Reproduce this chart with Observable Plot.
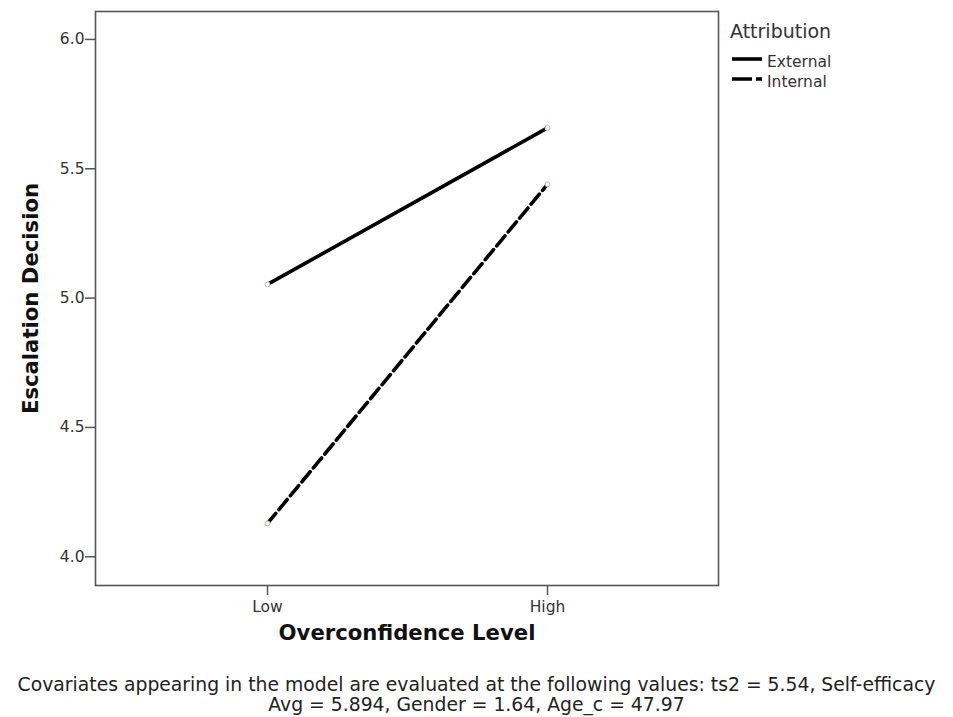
<!DOCTYPE html>
<html>
<head>
<meta charset="utf-8">
<script src="https://cdn.jsdelivr.net/npm/d3@7"></script>
<script src="https://cdn.jsdelivr.net/npm/@observablehq/plot@0.6"></script>
<style>
  body { margin: 0; background: #fff; }
  #wrap { position: relative; width: 953px; height: 717px; font-family: "DejaVu Sans", sans-serif; }
  #legend { position: absolute; left: 0; top: 0; }
  #caption { position: absolute; left: 0; top: 675px; width: 953px; text-align: center;
             font-size: 18.8px; line-height: 20px; color: #222; white-space: nowrap; }
</style>
</head>
<body>
<div id="wrap">
  <div id="chart"></div>
  <div id="caption">Covariates appearing in the model are evaluated at the following values: ts2 = 5.54, Self-efficacy<br>Avg = 5.894, Gender = 1.64, Age_c = 47.97</div>
</div>
<script>
const categories = ["Low", "High"];
const seriesNames = ["External", "Internal"];
const externalValues = [5.053, 5.658];
const internalValues = [4.129, 5.440];
const yTicks = [4.0, 4.5, 5.0, 5.5, 6.0];
const xTitle = "Overconfidence Level";
const yTitle = "Escalation Decision";
const legendTitle = "Attribution";

const rows = [];
categories.forEach((c, i) => {
  rows.push({level: c, attribution: seriesNames[0], value: externalValues[i]});
  rows.push({level: c, attribution: seriesNames[1], value: internalValues[i]});
});
const extRows = rows.filter(d => d.attribution === "External");
const intRows = rows.filter(d => d.attribution === "Internal");

const chart = Plot.plot({
  width: 953,
  height: 665,
  marginLeft: 95,
  marginRight: 235,
  marginTop: 11,
  marginBottom: 80,
  style: {fontFamily: "DejaVu Sans, sans-serif", fontSize: "15.5px", color: "#333", background: "#fff"},
  x: {type: "point", domain: categories, padding: 0.61},
  y: {domain: [3.889, 6.108]},
  marks: [
    Plot.axisX({tickSize: 10, tickPadding: 5, label: null, stroke: "#555", strokeWidth: 1.5, fill: "#333"}),
    Plot.axisY({ticks: yTicks, tickFormat: d3.format(".1f"), tickSize: 10, tickPadding: 1, label: null, stroke: "#555", strokeWidth: 1.5, fill: "#333"}),
    Plot.line(extRows, {x: "level", y: "value", stroke: "#000", strokeWidth: 3.6}),
    Plot.line(intRows, {x: "level", y: "value", stroke: "#000", strokeWidth: 3.6, strokeDasharray: "13,5"}),
    Plot.dot(extRows, {x: "level", y: "value", r: 2.5, fill: "#fff", stroke: "#a9b2e6", strokeWidth: 1}),
    Plot.dot(intRows, {x: "level", y: "value", r: 2.5, fill: "#fff", stroke: "#8fcf8f", strokeWidth: 1}),
    Plot.frame({stroke: "#555", strokeWidth: 1.6}),
    Plot.text([xTitle], {frameAnchor: "bottom", dy: 54.6, text: d => d, fontSize: 21.2, fontWeight: "bold", fill: "#111"}),
    Plot.text([yTitle], {frameAnchor: "left", textAnchor: "middle", dx: -64.4, rotate: -90, text: d => d, fontSize: 21.2, fontWeight: "bold", fill: "#111"})
  ]
});
document.getElementById("chart").appendChild(chart);

// legend
const lg = d3.select("#wrap").append("svg").attr("id", "legend").attr("width", 953).attr("height", 100)
  .style("font-family", "DejaVu Sans, sans-serif");
lg.append("text").attr("x", 730).attr("y", 38).attr("font-size", 19).attr("fill", "#333").text(legendTitle);
const dashes = [null, "20,4,6"];
seriesNames.forEach((name, i) => {
  const y = 59 + i * 20;
  const l = lg.append("line").attr("x1", 732).attr("x2", 762).attr("y1", y).attr("y2", y)
    .attr("stroke", "#000").attr("stroke-width", 3.6);
  if (dashes[i]) l.attr("stroke-dasharray", dashes[i]);
  lg.append("text").attr("x", 767).attr("y", y + 7.5).attr("font-size", 15.5).attr("fill", "#333").text(name);
});
</script>
</body>
</html>
